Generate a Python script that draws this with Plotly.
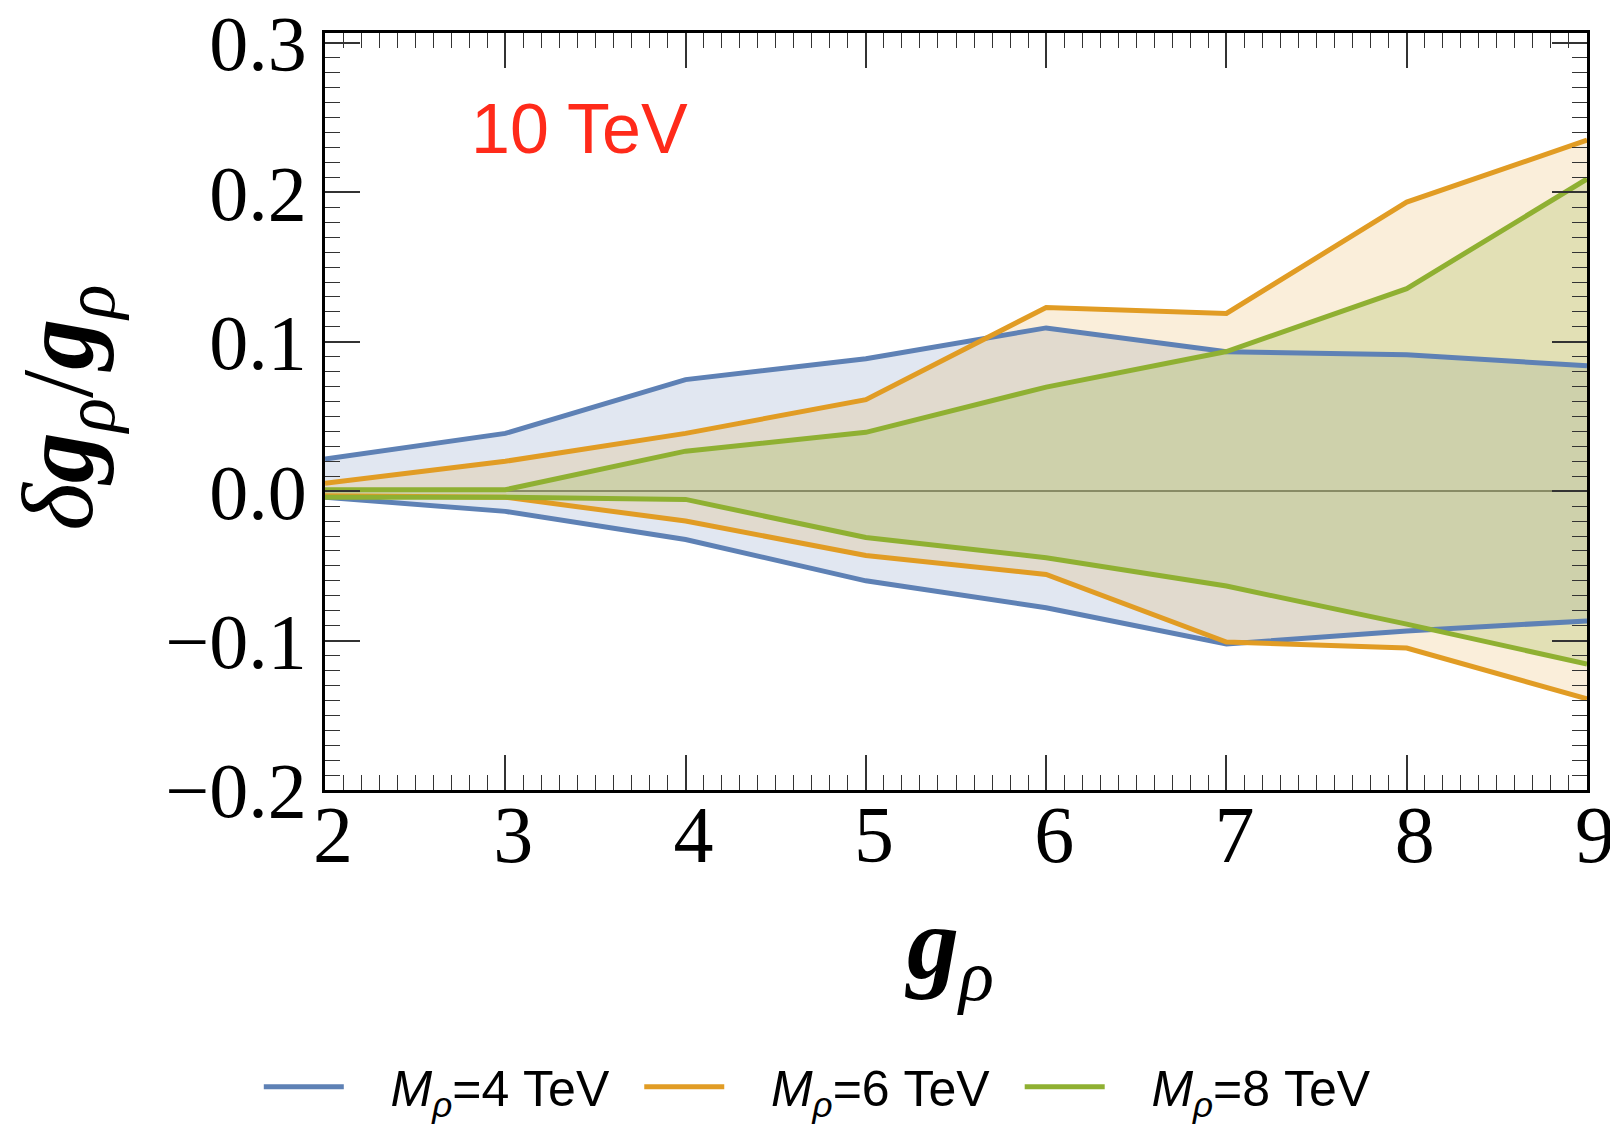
import plotly.graph_objects as go

g_rho = [2, 3, 4, 5, 6, 7, 8, 9]

# M_rho = 4 TeV
blue_upper = [0.0216, 0.0387, 0.0747, 0.0887, 0.1093, 0.0933, 0.0913, 0.0840]
blue_lower = [-0.004, -0.0135, -0.0323, -0.0600, -0.0780, -0.1023, -0.0935, -0.0868]
# M_rho = 6 TeV
orange_upper = [0.0053, 0.0200, 0.0387, 0.0613, 0.1230, 0.1190, 0.1935, 0.2350]
orange_lower = [-0.003, -0.004, -0.0200, -0.0430, -0.0557, -0.1010, -0.1050, -0.1390]
# M_rho = 8 TeV
green_upper = [0.001, 0.001, 0.0268, 0.0394, 0.0697, 0.0935, 0.1356, 0.2090]
green_lower = [-0.004, -0.004, -0.0055, -0.0310, -0.0445, -0.0635, -0.0890, -0.1157]

series_names = ["<i>M</i><sub><i>ρ</i></sub>=4 TeV",
                "<i>M</i><sub><i>ρ</i></sub>=6 TeV",
                "<i>M</i><sub><i>ρ</i></sub>=8 TeV"]
colors = ["#5E81B5", "#E19C24", "#8FB032"]
fills = ["rgba(94,129,181,0.19)", "rgba(225,156,36,0.17)", "rgba(143,176,50,0.22)"]

y_tickvals = [-0.2, -0.1, 0.0, 0.1, 0.2, 0.3]
y_ticktext = ["\u22120.2", "\u22120.1", "0.0", "0.1", "0.2", "0.3"]
x_tickvals = [2, 3, 4, 5, 6, 7, 8, 9]
x_ticktext = ["2", "3", "4", "5", "6", "7", "8", "9"]

uppers = [blue_upper, orange_upper, green_upper]
lowers = [blue_lower, orange_lower, green_lower]

fig = go.Figure()

# filled bands
for up, lo, fc in zip(uppers, lowers, fills):
    fig.add_trace(go.Scatter(x=g_rho, y=lo, mode="lines", line=dict(width=0),
                             showlegend=False, hoverinfo="skip"))
    fig.add_trace(go.Scatter(x=g_rho, y=up, mode="lines", line=dict(width=0),
                             fill="tonexty", fillcolor=fc,
                             showlegend=False, hoverinfo="skip"))

# boundary lines
for up, lo, c, name in zip(uppers, lowers, colors, series_names):
    fig.add_trace(go.Scatter(x=g_rho, y=up, mode="lines", line=dict(color=c, width=5),
                             name="\u2002\u2004" + name + "\u2002", legendgroup=name,
                             showlegend=True))
    fig.add_trace(go.Scatter(x=g_rho, y=lo, mode="lines", line=dict(color=c, width=5),
                             name=name, legendgroup=name, showlegend=False))

serif = "Liberation Serif"
sans = "Liberation Sans"

# page body has an 8px default margin, so the figure is drawn 8px in from the corner
W, H = 1610, 1119
L, T = 317, 25
PW, PH = 1262, 757

fig.update_layout(
    width=W, height=H,
    margin=dict(l=L, r=W - L - PW, t=T, b=H - T - PH, autoexpand=False),
    paper_bgcolor="white",
    plot_bgcolor="white",
    showlegend=True,
    legend=dict(orientation="h", x=0.40, xanchor="center", y=-0.392, yanchor="middle",
                font=dict(family=sans, size=50, color="black"),
                itemwidth=80, tracegroupgap=0, bgcolor="rgba(0,0,0,0)"),
    annotations=[
        dict(text="10 TeV", x=0.202, y=0.873, xref="paper", yref="paper",
             showarrow=False, font=dict(family=sans, size=70, color="#FF2A1A"),
             xanchor="center", yanchor="middle"),
        dict(text="<b><i>g</i></b><sub><i>ρ</i></sub>", x=0.495, y=(790 - 950) / 757,
             xref="paper", yref="paper", showarrow=False,
             font=dict(family=serif, size=104, color="black"),
             xanchor="center", yanchor="middle"),
        dict(text="<i>δ</i><b><i>g</i></b><sub><i>ρ</i></sub>/<b><i>g</i></b><sub><i>ρ</i></sub>",
             x=(65 - 325) / 1262, y=0.505, xref="paper", yref="paper",
             showarrow=False, textangle=-90,
             font=dict(family=serif, size=102, color="black"),
             xanchor="center", yanchor="middle"),
    ],
)

fig.update_xaxes(
    range=[2, 9], tickvals=x_tickvals, ticktext=["\u2009" + t for t in x_ticktext],
    automargin=False, ticklabeloverflow="allow",
    showgrid=False, zeroline=False,
    showline=True, linecolor="black", linewidth=2.5, mirror="allticks",
    ticks="inside", ticklen=35, tickwidth=1.5, tickcolor="#333",
    ticklabelstandoff=-27,
    tickfont=dict(family=serif, size=80, color="black"),
    minor=dict(dtick=0.1, ticks="inside", ticklen=15, tickwidth=1.3, tickcolor="#333", showgrid=False),
)
fig.update_yaxes(
    range=[-0.2, 0.3067], tickvals=y_tickvals, ticktext=y_ticktext,
    automargin=False, ticklabeloverflow="allow",
    showgrid=False, zeroline=True, zerolinecolor="#7a7a7a", zerolinewidth=1.5,
    showline=True, linecolor="black", linewidth=2.5, mirror="allticks",
    ticks="inside", ticklen=35, tickwidth=1.5, tickcolor="#333",
    ticklabelstandoff=0,
    tickfont=dict(family=serif, size=78, color="black"),
    minor=dict(dtick=0.01, ticks="inside", ticklen=15, tickwidth=1.3, tickcolor="#333", showgrid=False),
)

fig.write_html("out.html")
